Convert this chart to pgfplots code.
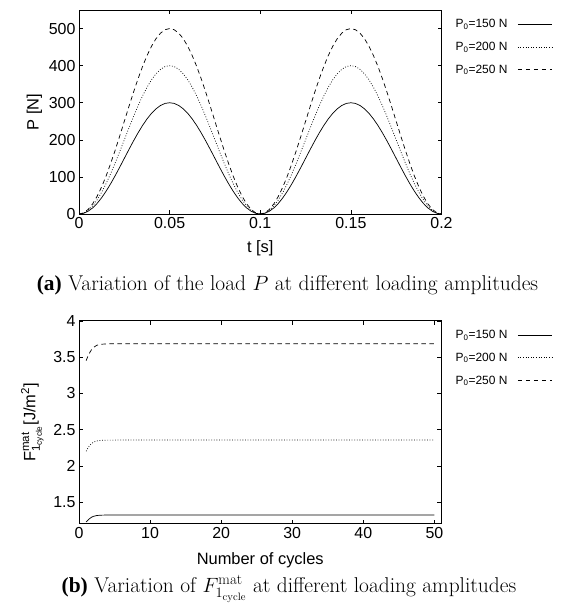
\documentclass[border=0pt]{standalone}
\usepackage{pgfplots}
\pgfplotsset{compat=1.18}
\usepackage{pgfplotstable}
\usepackage{fontspec}
\usepackage{amsmath}
\newfontfamily\arial{Liberation Sans}
\newfontfamily\tnr{Liberation Serif}

\pgfplotstableread{
t a b c
0 0 0 0
0.0025 1.847 2.462 3.078
0.005 7.341 9.789 12.236
0.0075 16.349 21.799 27.248
0.01 28.647 38.197 47.746
0.0125 43.934 58.579 73.223
0.015 61.832 82.443 103.054
0.0175 81.902 109.202 136.503
0.02 103.647 138.197 172.746
0.0225 126.535 168.713 210.892
0.025 150 200 250
0.0275 173.465 231.287 289.109
0.03 196.353 261.803 327.254
0.0325 218.099 290.798 363.498
0.035 238.168 317.557 396.946
0.0375 256.066 341.421 426.777
0.04 271.353 361.803 452.254
0.0425 283.651 378.201 472.752
0.045 292.659 390.211 487.764
0.0475 298.153 397.538 496.922
0.05 300 400 500
0.0525 298.153 397.538 496.922
0.055 292.659 390.211 487.764
0.0575 283.651 378.201 472.752
0.06 271.353 361.803 452.254
0.0625 256.066 341.421 426.777
0.065 238.168 317.557 396.946
0.0675 218.099 290.798 363.498
0.07 196.353 261.803 327.254
0.0725 173.465 231.287 289.109
0.075 150 200 250
0.0775 126.535 168.713 210.892
0.08 103.647 138.197 172.746
0.0825 81.902 109.202 136.503
0.085 61.832 82.443 103.054
0.0875 43.934 58.579 73.223
0.09 28.647 38.197 47.746
0.0925 16.349 21.799 27.248
0.095 7.341 9.789 12.236
0.0975 1.847 2.462 3.078
0.1 0 0 0
0.1025 1.847 2.462 3.078
0.105 7.341 9.789 12.236
0.1075 16.349 21.799 27.248
0.11 28.647 38.197 47.746
0.1125 43.934 58.579 73.223
0.115 61.832 82.443 103.054
0.1175 81.902 109.202 136.503
0.12 103.647 138.197 172.746
0.1225 126.535 168.713 210.892
0.125 150 200 250
0.1275 173.465 231.287 289.109
0.13 196.353 261.803 327.254
0.1325 218.099 290.798 363.498
0.135 238.168 317.557 396.946
0.1375 256.066 341.421 426.777
0.14 271.353 361.803 452.254
0.1425 283.651 378.201 472.752
0.145 292.659 390.211 487.764
0.1475 298.153 397.538 496.922
0.15 300 400 500
0.1525 298.153 397.538 496.922
0.155 292.659 390.211 487.764
0.1575 283.651 378.201 472.752
0.16 271.353 361.803 452.254
0.1625 256.066 341.421 426.777
0.165 238.168 317.557 396.946
0.1675 218.099 290.798 363.498
0.17 196.353 261.803 327.254
0.1725 173.465 231.287 289.109
0.175 150 200 250
0.1775 126.535 168.713 210.892
0.18 103.647 138.197 172.746
0.1825 81.902 109.202 136.503
0.185 61.832 82.443 103.054
0.1875 43.934 58.579 73.223
0.19 28.647 38.197 47.746
0.1925 16.349 21.799 27.248
0.195 7.341 9.789 12.236
0.1975 1.847 2.462 3.078
0.2 0 0 0
}\loadtable

\pgfplotstableread{
n a b c
1 1.225 2.200 3.450
1.25 1.250 2.245 3.510
1.5 1.272 2.280 3.560
1.75 1.290 2.305 3.600
2 1.302 2.325 3.630
2.5 1.314 2.343 3.662
3 1.319 2.351 3.676
4 1.321 2.354 3.682
6 1.322 2.355 3.684
50 1.322 2.355 3.684
}\cycletable

\pgfplotsset{
  every axis/.append style={
    scale only axis,
    tick align=inside,
    major tick length=4bp,
    tick style={black, line width=0.5bp},
    axis line style={line width=0.8bp},
    font=\arial\fontsize{16.5}{19}\selectfont,
    ticklabel style={font=\arial\fontsize{16}{18}\selectfont},
    /pgf/number format/assume math mode=true,
    legend plot pos=right,
    legend cell align=left,
    legend style={at={(1,1)}, anchor=north west, xshift=12bp, yshift=-7bp,
      draw=none, fill=none, inner sep=0pt,
      font=\arial\fontsize{12}{14}\selectfont, row sep=9bp, column sep=8bp},
    legend image code/.code={\draw[#1] (0bp,0bp) -- (34bp,0bp);},
  },
  s1/.style={black, line width=0.7bp},
  s2/.style={black, line width=0.7bp, dash pattern=on 0.8bp off 1.8bp},
  s3/.style={black, line width=0.7bp, dash pattern=on 4.5bp off 3.5bp},
}

\begin{document}
\begin{tikzpicture}
\useasboundingbox (0,0) rectangle (564bp,-613bp);
\begin{axis}[
  at={(79bp,-214bp)}, anchor=south west,
  width=362.5bp, height=204bp,
  xmin=0, xmax=0.2, ymin=0, ymax=550,
  xtick={0,0.05,0.1,0.15,0.2}, xticklabels={0,0.05,0.1,0.15,0.2},
  ytick={0,100,200,300,400,500},
  xlabel={t [s]}, ylabel={P [N]},
  xlabel style={yshift=-5bp},
]
\addplot[s1] table[x=t,y=a] {\loadtable};
\addlegendentry{P$_{\text{0}}$=150 N}
\addplot[s2] table[x=t,y=b] {\loadtable};
\addlegendentry{P$_{\text{0}}$=200 N}
\addplot[s3] table[x=t,y=c] {\loadtable};
\addlegendentry{P$_{\text{0}}$=250 N}
\end{axis}

\begin{axis}[
  at={(79bp,-523.8bp)}, anchor=south west,
  width=362.5bp, height=203bp,
  xmin=0, xmax=51, ymin=1.2, ymax=4,
  xtick={0,10,20,30,40,50},
  ytick={1.5,2,2.5,3,3.5,4}, yticklabels={1.5,2,2.5,3,3.5,4},
  xlabel={Number of cycles},
  xlabel style={yshift=-7bp},
  ylabel={F$^{\text{mat}}_{\text{1}_{\text{cycle}}}$[J/m$^{\text{2}}$]},
  ylabel style={yshift=3bp},
]
\addplot[s1] table[x=n,y=a] {\cycletable};
\addlegendentry{P$_{\text{0}}$=150 N}
\addplot[s2] table[x=n,y=b] {\cycletable};
\addlegendentry{P$_{\text{0}}$=200 N}
\addplot[s3] table[x=n,y=c] {\cycletable};
\addlegendentry{P$_{\text{0}}$=250 N}
\end{axis}

\node[font=\fontsize{21.5}{24}\selectfont] at (287.5bp,-285bp)
  {{\tnr\bfseries (a)} Variation of the load $P$ at different loading amplitudes};
\node[font=\fontsize{21.5}{24}\selectfont] at (289bp,-589bp)
  {{\tnr\bfseries (b)} Variation of $F^{\mathrm{mat}}_{1_{\mathrm{cycle}}}$ at different loading amplitudes};
\end{tikzpicture}
\end{document}
